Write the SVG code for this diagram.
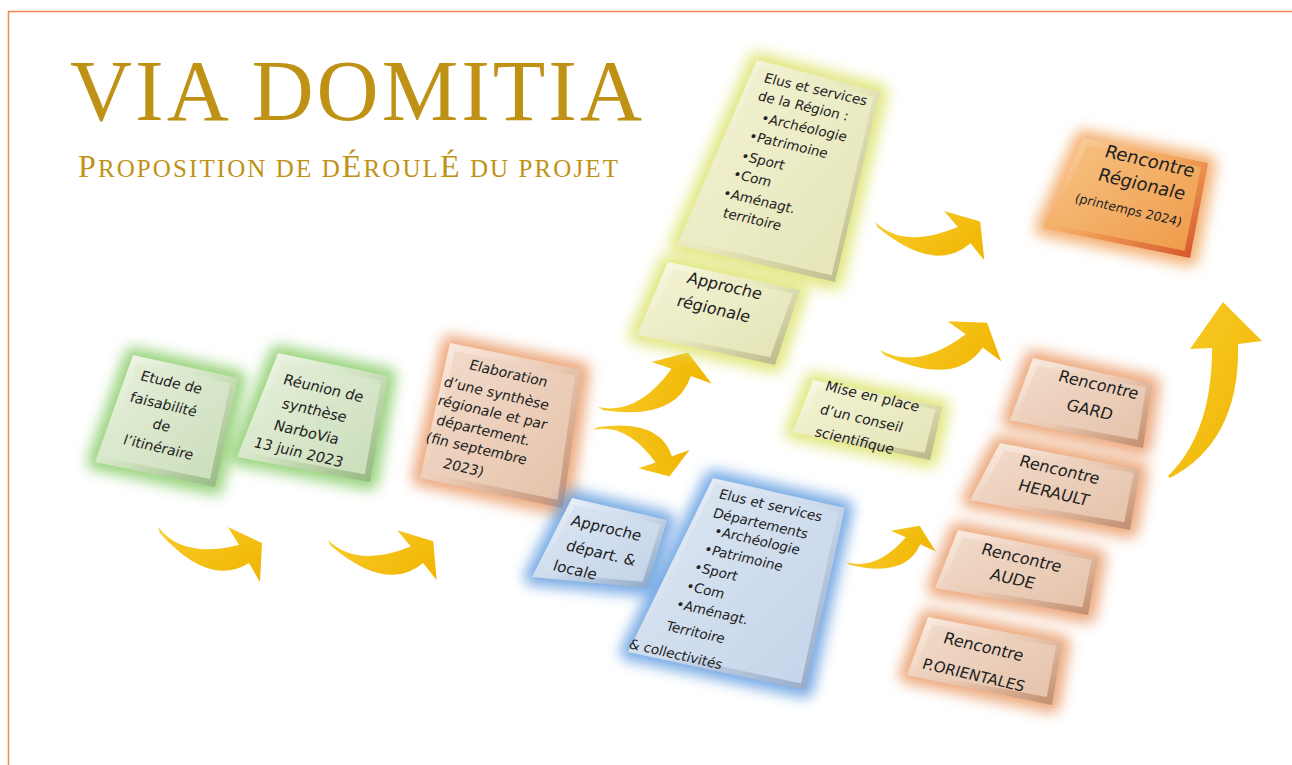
<svg xmlns="http://www.w3.org/2000/svg" xmlns:xlink="http://www.w3.org/1999/xlink" width="1292" height="765" viewBox="0 0 1292 765">
<style>
.t{font-family:"DejaVu Sans","Liberation Sans",sans-serif;font-size:14px;fill:#222}
.c{text-anchor:middle}
.r{font-size:16px}
.glow{stroke-width:16;stroke-linejoin:round;opacity:.85}
.title{font-family:"Liberation Serif","DejaVu Serif",serif;fill:#BF9216}
</style>
<defs>
<filter id="blur" x="-40%" y="-40%" width="180%" height="180%"><feGaussianBlur stdDeviation="7"/></filter>
<linearGradient id="gold" x1="0" y1="0" x2="1" y2="1"><stop offset="0" stop-color="#F8CC2A"/><stop offset="1" stop-color="#F0B400"/></linearGradient>
<linearGradient id="eG" x1="0" y1="0" x2="1" y2="1"><stop offset="0" stop-color="#F6FBF0"/><stop offset=".5" stop-color="#D0E3C0"/><stop offset="1" stop-color="#8FB27A"/></linearGradient>
<linearGradient id="fG" x1="0" y1="0" x2="1" y2="1"><stop offset="0" stop-color="#E6F0DB"/><stop offset="1" stop-color="#CADDB9"/></linearGradient>
<linearGradient id="eP" x1="0" y1="0" x2="1" y2="1"><stop offset="0" stop-color="#FCF0E7"/><stop offset=".5" stop-color="#EBC9B2"/><stop offset="1" stop-color="#BE8A6C"/></linearGradient>
<linearGradient id="fP" x1="0" y1="0" x2="1" y2="1"><stop offset="0" stop-color="#F2DBCB"/><stop offset="1" stop-color="#E5C2AA"/></linearGradient>
<linearGradient id="eY" x1="0" y1="0" x2="1" y2="1"><stop offset="0" stop-color="#FBFBE8"/><stop offset=".5" stop-color="#E8E8BE"/><stop offset="1" stop-color="#B3B384"/></linearGradient>
<linearGradient id="fY" x1="0" y1="0" x2="1" y2="1"><stop offset="0" stop-color="#F3F3D5"/><stop offset="1" stop-color="#E4E4B6"/></linearGradient>
<linearGradient id="eB" x1="0" y1="0" x2="1" y2="1"><stop offset="0" stop-color="#F1F6FC"/><stop offset=".5" stop-color="#CDDBEC"/><stop offset="1" stop-color="#8CA2C0"/></linearGradient>
<linearGradient id="fB" x1="0" y1="0" x2="1" y2="1"><stop offset="0" stop-color="#DDE7F3"/><stop offset="1" stop-color="#C3D3E8"/></linearGradient>
<linearGradient id="eO" x1="0" y1="0" x2="1" y2="1"><stop offset="0" stop-color="#FCD8AC"/><stop offset=".5" stop-color="#F2A458"/><stop offset="1" stop-color="#D24E28"/></linearGradient>
<linearGradient id="fO" x1="0" y1="0" x2="1" y2="1"><stop offset="0" stop-color="#F7C384"/><stop offset="1" stop-color="#EF9A48"/></linearGradient>
<path id="arw" d="M0,0 Q24.5,32 81,18 L70,0 L104,16 L102,55 L91,36 Q51,61 2,6 Z"/>
</defs>
<rect x="0" y="0" width="1292" height="765" fill="#FFFFFF"/>
<rect x="8.5" y="11.5" width="1300" height="800" fill="none" stroke="#F08A4B" stroke-width="1.5"/>

<g id="title">
<text class="title" x="70" y="120" font-size="86" textLength="572" lengthAdjust="spacing">VIA DOMITIA</text>
<text class="title" x="78" y="177" textLength="540" lengthAdjust="spacing"><tspan font-size="32">P</tspan><tspan font-size="25">ROPOSITION DE D</tspan><tspan font-size="32">É</tspan><tspan font-size="25">ROUL</tspan><tspan font-size="32">É</tspan><tspan font-size="25"> DU PROJET</tspan></text>
</g>

<g id="connectors" fill="url(#gold)">
<use xlink:href="#arw" href="#arw" transform="translate(158,527)"/>
<use xlink:href="#arw" href="#arw" transform="translate(328,540) rotate(-8)"/>
<use xlink:href="#arw" href="#arw" transform="translate(598,407) rotate(-40)"/>
<use xlink:href="#arw" href="#arw" transform="translate(593,430) rotate(40) scale(0.85,-0.85)"/>
<use xlink:href="#arw" href="#arw" transform="translate(875,222) rotate(-9)"/>
<use xlink:href="#arw" href="#arw" transform="translate(880,350) rotate(-23) scale(1.05)"/>
<use xlink:href="#arw" href="#arw" transform="translate(846,562) rotate(-35) scale(0.78)"/>
<path d="M1168,476 C1200,445 1212,400 1212,348 L1190,349 L1223,302 L1262,341 L1238,344 C1240,410 1215,455 1170,478 Z"/>
</g>

<g id="n1">
<polygon class="glow" filter="url(#blur)" fill="#86CC66" stroke="#86CC66" points="133,355 238,378 215,487 95,462"/>
<polygon fill="url(#eG)" points="133,355 238,378 215,487 95,462"/>
<polygon fill="url(#fG)" points="133,355 238,378 215,487 95,462" transform="translate(170 420) scale(0.89 0.88) translate(-170 -420)"/>
<text class="t c" transform="translate(170,387) rotate(13) skewX(-6)">Etude de</text>
<text class="t c" transform="translate(162,409) rotate(13) skewX(-6)">faisabilité</text>
<text class="t c" transform="translate(160,430) rotate(13) skewX(-6)">de</text>
<text class="t c" transform="translate(157,452) rotate(13) skewX(-6)">l’itinéraire</text>
</g>

<g id="n2">
<polygon class="glow" filter="url(#blur)" fill="#86CC66" stroke="#86CC66" points="278,353 388,376 370,482 237,457"/>
<polygon fill="url(#eG)" points="278,353 388,376 370,482 237,457"/>
<polygon fill="url(#fG)" points="278,353 388,376 370,482 237,457" transform="translate(318 417) scale(0.9 0.88) translate(-318 -417)"/>
<text class="t c" style="font-size:14.5px" transform="translate(322,393) rotate(13) skewX(-6)">Réunion de</text>
<text class="t c" style="font-size:14.5px" transform="translate(313,415) rotate(13) skewX(-6)">synthèse</text>
<text class="t c" style="font-size:14.5px" transform="translate(305,437) rotate(13) skewX(-6)">NarboVia</text>
<text class="t c" style="font-size:14.5px" transform="translate(297,457) rotate(13) skewX(-6)">13 juin 2023</text>
</g>

<g id="n3">
<polygon class="glow" filter="url(#blur)" fill="#E99A66" stroke="#E99A66" points="450,343 582,370 563,508 420,478"/>
<polygon fill="url(#eP)" points="450,343 582,370 563,508 420,478"/>
<polygon fill="url(#fP)" points="450,343 582,370 563,508 420,478" transform="translate(504 425) scale(0.91 0.9) translate(-504 -425)"/>
<text class="t c" transform="translate(507,378) rotate(13) skewX(-6)">Elaboration</text>
<text class="t c" transform="translate(495,398) rotate(13) skewX(-6)">d’une synthèse</text>
<text class="t c" transform="translate(491,417) rotate(13) skewX(-6)">régionale et par</text>
<text class="t c" transform="translate(482,435) rotate(13) skewX(-6)">département.</text>
<text class="t c" transform="translate(475,453) rotate(13) skewX(-6)">(fin septembre</text>
<text class="t c" transform="translate(462,472) rotate(13) skewX(-6)">2023)</text>
</g>

<g id="n4">
<polygon class="glow" filter="url(#blur)" fill="#DCE36A" stroke="#DCE36A" points="757,60 880,92 835,282 677,245"/>
<polygon fill="url(#eY)" points="757,60 880,92 835,282 677,245"/>
<polygon fill="url(#fY)" points="757,60 880,92 835,282 677,245" transform="translate(787 170) scale(0.93 0.94) translate(-787 -170)"/>
<text class="t" style="font-size:13.5px" transform="translate(763,82) rotate(13) skewX(-6)">Elus et services</text>
<text class="t" style="font-size:13.5px" transform="translate(757,100) rotate(13) skewX(-6)">de la Région :</text>
<text class="t" style="font-size:13.5px" transform="translate(760,122) rotate(13) skewX(-6)">•Archéologie</text>
<text class="t" style="font-size:13.5px" transform="translate(748,140) rotate(13) skewX(-6)">•Patrimoine</text>
<text class="t" style="font-size:13.5px" transform="translate(740,160) rotate(13) skewX(-6)">•Sport</text>
<text class="t" style="font-size:13.5px" transform="translate(732,178) rotate(13) skewX(-6)">•Com</text>
<text class="t" style="font-size:13.5px" transform="translate(722,197) rotate(13) skewX(-6)">•Aménagt.</text>
<text class="t" style="font-size:13.5px" transform="translate(722,217) rotate(13) skewX(-6)">territoire</text>
</g>

<g id="n5">
<polygon class="glow" filter="url(#blur)" fill="#DCE36A" stroke="#DCE36A" points="668,262 800,290 775,365 637,335"/>
<polygon fill="url(#eY)" points="668,262 800,290 775,365 637,335"/>
<polygon fill="url(#fY)" points="668,262 800,290 775,365 637,335" transform="translate(720 313) scale(0.91 0.85) translate(-720 -313)"/>
<text class="t c" style="font-size:16px" transform="translate(723,291) rotate(13) skewX(-6)">Approche</text>
<text class="t c" style="font-size:16px" transform="translate(712,314) rotate(13) skewX(-6)">régionale</text>
</g>

<g id="n6">
<polygon class="glow" filter="url(#blur)" fill="#F2A35A" stroke="#F2A35A" points="1083,138 1208,163 1190,258 1043,228"/>
<polygon fill="url(#eO)" points="1083,138 1208,163 1190,258 1043,228"/>
<polygon fill="url(#fO)" points="1083,138 1208,163 1190,258 1043,228" transform="translate(1131 197) scale(0.91 0.88) translate(-1131 -197)"/>
<text class="t c" style="font-size:18px" transform="translate(1148,167) rotate(13) skewX(-6)">Rencontre</text>
<text class="t c" style="font-size:18px" transform="translate(1140,190) rotate(13) skewX(-6)">Régionale</text>
<text class="t c" style="font-size:12.5px" transform="translate(1127,214) rotate(13) skewX(-6)">(printemps 2024)</text>
</g>

<g id="n7">
<polygon class="glow" filter="url(#blur)" fill="#DCE36A" stroke="#DCE36A" points="813,380 942,407 930,460 793,432"/>
<polygon fill="url(#eY)" points="813,380 942,407 930,460 793,432"/>
<polygon fill="url(#fY)" points="813,380 942,407 930,460 793,432" transform="translate(869 420) scale(0.91 0.82) translate(-869 -420)"/>
<text class="t c" transform="translate(871,401) rotate(13) skewX(-6)">Mise en place</text>
<text class="t c" transform="translate(860,423) rotate(13) skewX(-6)">d’un conseil</text>
<text class="t c" transform="translate(853,445) rotate(13) skewX(-6)">scientifique</text>
</g>

<g id="n8">
<polygon class="glow" filter="url(#blur)" fill="#5F9BE0" stroke="#5F9BE0" points="572,498 667,520 647,588 532,577"/>
<polygon fill="url(#eB)" points="572,498 667,520 647,588 532,577"/>
<polygon fill="url(#fB)" points="572,498 667,520 647,588 532,577" transform="translate(604 546) scale(0.9 0.85) translate(-604 -546)"/>
<text class="t" style="font-size:15px" transform="translate(570,525) rotate(13) skewX(-6)">Approche</text>
<text class="t" style="font-size:15px" transform="translate(565,550) rotate(13) skewX(-6)">départ. &amp;</text>
<text class="t" style="font-size:15px" transform="translate(552,570) rotate(13) skewX(-6)">locale</text>
</g>

<g id="n9">
<polygon class="glow" filter="url(#blur)" fill="#5F9BE0" stroke="#5F9BE0" points="713,478 845,508 805,690 628,652"/>
<polygon fill="url(#eB)" points="713,478 845,508 805,690 628,652"/>
<polygon fill="url(#fB)" points="713,478 845,508 805,690 628,652" transform="translate(748 582) scale(0.93 0.94) translate(-748 -582)"/>
<text class="t" style="font-size:13.5px" transform="translate(718,498) rotate(13) skewX(-6)">Elus et services</text>
<text class="t" style="font-size:13.5px" transform="translate(712,517) rotate(13) skewX(-6)">Départements</text>
<text class="t" style="font-size:13.5px" transform="translate(713,535) rotate(13) skewX(-6)">•Archéologie</text>
<text class="t" style="font-size:13.5px" transform="translate(703,553) rotate(13) skewX(-6)">•Patrimoine</text>
<text class="t" style="font-size:13.5px" transform="translate(693,571) rotate(13) skewX(-6)">•Sport</text>
<text class="t" style="font-size:13.5px" transform="translate(685,590) rotate(13) skewX(-6)">•Com</text>
<text class="t" style="font-size:13.5px" transform="translate(675,608) rotate(13) skewX(-6)">•Aménagt.</text>
<text class="t" style="font-size:13.5px" transform="translate(665,630) rotate(13) skewX(-6)">Territoire</text>
<text class="t" style="font-size:13.5px" transform="translate(628,648) rotate(13) skewX(-6)">&amp; collectivités</text>
</g>

<g id="n10">
<polygon class="glow" filter="url(#blur)" fill="#E99A66" stroke="#E99A66" points="1033,358 1152,384 1143,448 1010,420"/>
<polygon fill="url(#eP)" points="1033,358 1152,384 1143,448 1010,420"/>
<polygon fill="url(#fP)" points="1033,358 1152,384 1143,448 1010,420" transform="translate(1084 402) scale(0.91 0.82) translate(-1084 -402)"/>
<text class="t c r" transform="translate(1097,390) rotate(13) skewX(-6)">Rencontre</text>
<text class="t c r" transform="translate(1088,415) rotate(13) skewX(-6)">GARD</text>
</g>

<g id="n11">
<polygon class="glow" filter="url(#blur)" fill="#E99A66" stroke="#E99A66" points="1000,443 1140,470 1130,530 970,500"/>
<polygon fill="url(#eP)" points="1000,443 1140,470 1130,530 970,500"/>
<polygon fill="url(#fP)" points="1000,443 1140,470 1130,530 970,500" transform="translate(1060 486) scale(0.92 0.82) translate(-1060 -486)"/>
<text class="t c r" transform="translate(1058,475) rotate(13) skewX(-6)">Rencontre</text>
<text class="t c r" transform="translate(1052,498) rotate(13) skewX(-6)">HERAULT</text>
</g>

<g id="n12">
<polygon class="glow" filter="url(#blur)" fill="#E99A66" stroke="#E99A66" points="958,530 1098,557 1088,615 935,588"/>
<polygon fill="url(#eP)" points="958,530 1098,557 1088,615 935,588"/>
<polygon fill="url(#fP)" points="958,530 1098,557 1088,615 935,588" transform="translate(1020 572) scale(0.92 0.82) translate(-1020 -572)"/>
<text class="t c r" transform="translate(1020,563) rotate(13) skewX(-6)">Rencontre</text>
<text class="t c r" transform="translate(1011,584) rotate(13) skewX(-6)">AUDE</text>
</g>

<g id="n13">
<polygon class="glow" filter="url(#blur)" fill="#E99A66" stroke="#E99A66" points="928,617 1062,643 1052,705 907,675"/>
<polygon fill="url(#eP)" points="928,617 1062,643 1052,705 907,675"/>
<polygon fill="url(#fP)" points="928,617 1062,643 1052,705 907,675" transform="translate(987 660) scale(0.92 0.82) translate(-987 -660)"/>
<text class="t c r" transform="translate(982,652) rotate(13) skewX(-6)">Rencontre</text>
<text class="t c" style="font-size:15px" transform="translate(972,680) rotate(13) skewX(-6)">P.ORIENTALES</text>
</g>
</svg>
